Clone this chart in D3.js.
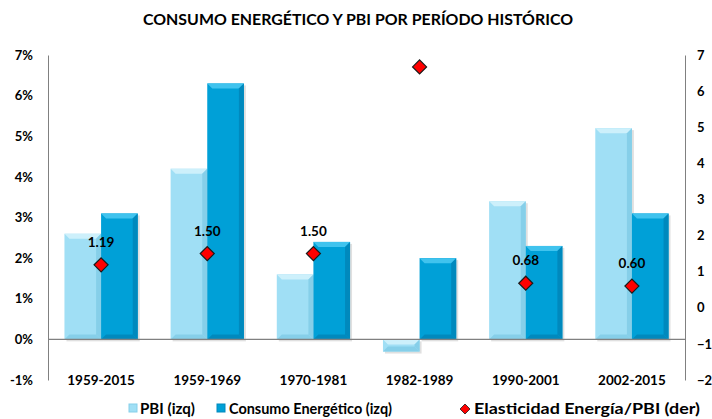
<!DOCTYPE html>
<html><head><meta charset="utf-8">
<script src="https://cdn.jsdelivr.net/npm/d3@7"></script>
<style>body{margin:0;background:#fff}svg{display:block}text{font-family:Lato,"Open Sans",sans-serif;font-weight:bold;fill:#000}</style>
</head><body><svg id="c" width="712" height="419"></svg>
<script>
const categories = ["1959-2015","1959-1969","1970-1981","1982-1989","1990-2001","2002-2015"];
const pbi = [2.6, 4.2, 1.6, -0.3, 3.4, 5.2];
const consumo = [3.1, 6.3, 2.4, 2.0, 2.3, 3.1];
const elasticidad = [1.19, 1.50, 1.50, 6.67, 0.68, 0.60];
const elastLabels = ["1.19","1.50","1.50","","0.68","0.60"];
const leftTicks = [-1,0,1,2,3,4,5,6,7];
const rightTicks = [-2,-1,0,1,2,3,4,5,6,7];
const title = "CONSUMO ENERGÉTICO Y PBI POR PERÍODO HISTÓRICO";
const legendLabels = ["PBI (izq)","Consumo Energético (izq)","Elasticidad Energía/PBI (der)"];

const svg = d3.select("#c");
const L = 48, R = 685, T = 55, B = 380;
const yL = d3.scaleLinear().domain([-1,7]).range([B,T]);
const yR = d3.scaleLinear().domain([-2,7]).range([B,T]);
const x = d3.scaleBand().domain(categories).range([L,R]).paddingInner(0.31).paddingOuter(0.155);
const x1 = d3.scaleBand().domain(["pbi","con"]).range([0,x.bandwidth()]);

svg.append("text").attr("x",358).attr("y",25).attr("text-anchor","middle").attr("font-size",16).attr("textLength",430).attr("lengthAdjust","spacingAndGlyphs").text(title);

// axes
const gl = svg.append("g").attr("transform",`translate(${L},0)`).call(d3.axisLeft(yL).tickValues(leftTicks).tickSize(0).tickPadding(15).tickFormat(d=>d+"%"));
gl.select(".domain").attr("stroke","#808080");
gl.selectAll("text").attr("font-size",13).style("font-family","Lato,sans-serif").style("font-weight","bold");
const gr = svg.append("g").attr("transform",`translate(${R},0)`).call(d3.axisRight(yR).tickValues(rightTicks).tickSize(0).tickPadding(12).tickFormat(d3.format("d")));
gr.select(".domain").attr("stroke","#808080");
gr.selectAll("text").attr("font-size",13).style("font-family","Lato,sans-serif").style("font-weight","bold");

const series = [
  {key:"pbi", vals:pbi, fill:"#a0dff5", hi:"#cdf0fb", dk:"#86cfe9"},
  {key:"con", vals:consumo, fill:"#00a0d7", hi:"#40c3ee", dk:"#0089bd"}
];
function bevelBar(g, x0, w, v, s){
  const y0 = yL(Math.max(0,v)), y1 = yL(Math.min(0,v));
  const h = y1 - y0, e = Math.min(5, h/2);
  g.append("rect").attr("x",x0+2).attr("y",y0+2).attr("width",w).attr("height",h).attr("fill","#000").attr("opacity",0.12);
  g.append("rect").attr("x",x0).attr("y",y0).attr("width",w).attr("height",h).attr("fill",s.fill);
  g.append("polygon").attr("points",`${x0},${y0} ${x0+w},${y0} ${x0+w-e},${y0+e} ${x0+e},${y0+e}`).attr("fill",s.hi);
  g.append("polygon").attr("points",`${x0+w},${y0} ${x0+w},${y1} ${x0+w-e},${y1-e} ${x0+w-e},${y0+e}`).attr("fill",s.dk);
  g.append("polygon").attr("points",`${x0},${y1} ${x0+w},${y1} ${x0+w-e},${y1-e} ${x0+e},${y1-e}`).attr("fill",s.dk);
}
const barsG = svg.append("g");
categories.forEach((c,i)=>{
  series.forEach(s=>bevelBar(barsG, x(c)+x1(s.key), x1.bandwidth(), s.vals[i], s));
});
// zero line
svg.append("line").attr("x1",L).attr("x2",R).attr("y1",yL(0)).attr("y2",yL(0)).attr("stroke","#808080").attr("stroke-width",1.2);

// category labels
svg.selectAll(".cat").data(categories).join("text").attr("x",d=>x(d)+x.bandwidth()/2).attr("y",385).attr("text-anchor","middle").attr("font-size",13.5).text(d=>d);

// diamonds
const dg = svg.append("g");
categories.forEach((c,i)=>{
  const cx = x(c)+x.bandwidth()/2, cy = yR(elasticidad[i]);
  dg.append("path").attr("d",`M${cx},${cy-7}L${cx+7},${cy}L${cx},${cy+7}L${cx-7},${cy}Z`).attr("fill","#ff0000").attr("stroke","#1a1a1a").attr("stroke-width",1.2);
  if(elastLabels[i]) dg.append("text").attr("x",cx).attr("y",cy-18).attr("text-anchor","middle").attr("font-size",13.5).text(elastLabels[i]);
});

// legend
const lg = svg.append("g");
const ly = 410;
lg.append("rect").attr("x",129).attr("y",ly-6).attr("width",8).attr("height",8).attr("fill",series[0].fill).attr("stroke","#86cfe9");
lg.append("text").attr("x",140).attr("y",ly+4).attr("font-size",14.5).attr("textLength",55).attr("lengthAdjust","spacingAndGlyphs").text(legendLabels[0]);
lg.append("rect").attr("x",217).attr("y",ly-6).attr("width",8).attr("height",8).attr("fill",series[1].fill).attr("stroke","#0089bd");
lg.append("text").attr("x",229).attr("y",ly+4).attr("font-size",14.5).attr("textLength",163).attr("lengthAdjust","spacingAndGlyphs").text(legendLabels[1]);
lg.append("path").attr("d",`M465,${ly-6}L470,${ly-1}L465,${ly+4}L460,${ly-1}Z`).attr("fill","#ff0000").attr("stroke","#1a1a1a").attr("stroke-width",0.8);
lg.append("text").attr("x",474).attr("y",ly+4).attr("font-size",14.5).attr("textLength",226).attr("lengthAdjust","spacingAndGlyphs").text(legendLabels[2]);
</script></body></html>
